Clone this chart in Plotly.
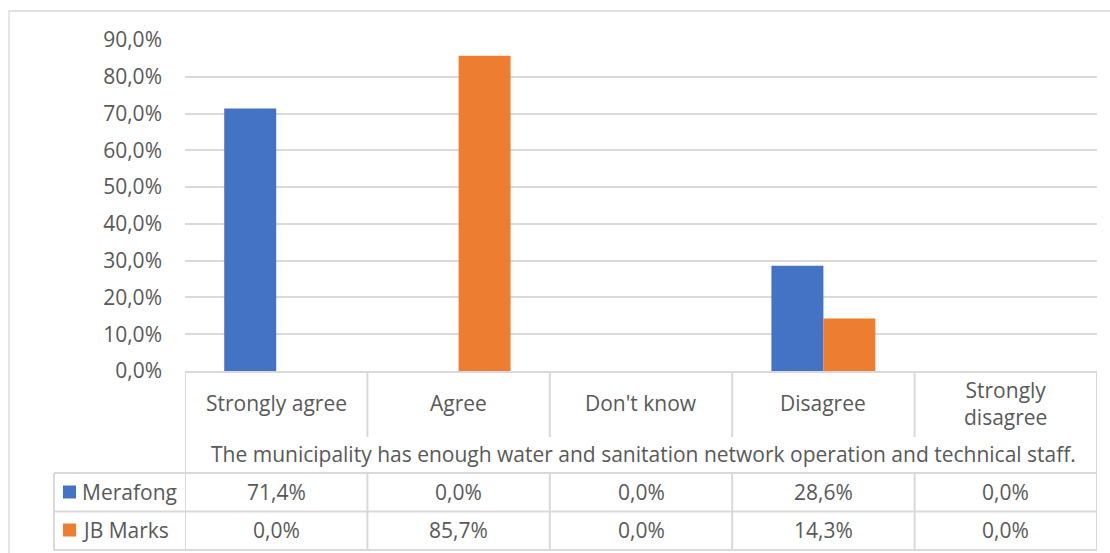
import plotly.graph_objects as go

# Survey responses per municipality
categories = ["Strongly agree", "Agree", "Don't know", "Disagree", "Strongly disagree"]
cat_labels = ["Strongly agree", "Agree", "Don't know", "Disagree", "Strongly<br>disagree"]
series_names = ["Merafong", "JB Marks"]
merafong = [0.714, 0.0, 0.0, 0.286, 0.0]
jb_marks = [0.0, 0.857, 0.0, 0.143, 0.0]
statement = "The municipality has enough water and sanitation network operation and technical staff."
colors = ["#4472C4", "#ED7D31"]
y_ticks = [0.0, 0.1, 0.2, 0.3, 0.4, 0.5, 0.6, 0.7, 0.8, 0.9]

W, H = 1110, 553
L, R, T, B = 185, 1097, 40, 371          # plot area in pixels
PW, PH = R - L, B - T

FONT = "Open Sans"
FS = 21
TXT = "#595959"
GRID = "#D9D9D9"


def px(xp):
    return (xp - L) / PW


def py(yp):
    return (B - yp) / PH


def label(x, y, text, xref="x", xanchor="center"):
    return dict(x=x, y=y, xref=xref, yref="paper", text=text, showarrow=False,
                xanchor=xanchor, yanchor="middle",
                font=dict(family=FONT, size=FS, color=TXT))


fig = go.Figure()
for name, vals, col in zip(series_names, [merafong, jb_marks], colors):
    fig.add_trace(go.Bar(x=categories, y=vals, name=name, marker_color=col,
                         marker_line_width=0, hoverinfo="skip"))

shapes = []
annotations = []

# chart frame
shapes.append(dict(type="rect", xref="paper", yref="paper",
                   x0=px(9), x1=px(1120), y0=py(11), y1=py(570),
                   line=dict(color=GRID, width=1.3), layer="below"))

n = len(categories)
# table grid: category header row
for i in range(1, n):
    shapes.append(dict(type="line", xref="x", yref="paper", x0=i - 0.5, x1=i - 0.5,
                       y0=py(371), y1=py(437), line=dict(color=GRID, width=2)))
for xb in [-0.5, n - 0.5]:
    shapes.append(dict(type="line", xref="x", yref="paper", x0=xb, x1=xb,
                       y0=py(371), y1=py(550), line=dict(color=GRID, width=2)))
# data rows
for i in range(1, n):
    shapes.append(dict(type="line", xref="x", yref="paper", x0=i - 0.5, x1=i - 0.5,
                       y0=py(473), y1=py(550), line=dict(color=GRID, width=2)))
for yl in [473, 511.5, 550]:
    shapes.append(dict(type="line", xref="paper", yref="paper", x0=px(54), x1=1,
                       y0=py(yl), y1=py(yl), line=dict(color=GRID, width=2)))
shapes.append(dict(type="line", xref="paper", yref="paper", x0=px(54), x1=px(54),
                   y0=py(473), y1=py(550), line=dict(color=GRID, width=2)))

# category labels
for i, lab in enumerate(cat_labels):
    annotations.append(label(i, py(403), lab))
# statement row
annotations.append(label(px(643), py(454), statement, xref="paper"))

# data rows with legend keys
row_y = [492, 530]
for name, vals, col, yr in zip(series_names, [merafong, jb_marks], colors, row_y):
    shapes.append(dict(type="rect", xref="paper", yref="paper",
                       x0=px(63), x1=px(76), y0=py(yr - 6.5), y1=py(yr + 6.5),
                       fillcolor=col, line=dict(width=0)))
    annotations.append(label(px(80), py(yr), name, xref="paper", xanchor="left"))
    for i, v in enumerate(vals):
        annotations.append(label(i, py(yr), f"{v * 100:.1f}%".replace(".", ",")))

fig.update_layout(
    width=W, height=H,
    margin=dict(l=L, r=W - R, t=T, b=H - B),
    paper_bgcolor="white", plot_bgcolor="white",
    separators=",.",
    barmode="group", bargap=0.43, bargroupgap=0,
    showlegend=False,
    shapes=shapes, annotations=annotations,
    font=dict(family=FONT, color=TXT, size=FS),
)
fig.update_xaxes(showticklabels=False, showgrid=False, showline=True,
                 linecolor=GRID, linewidth=2, ticks="", range=[-0.5, n - 0.5])
fig.update_yaxes(range=[0, 0.9], tickvals=y_ticks, tickformat=".1%",
                 showgrid=True, gridcolor=GRID, gridwidth=2, zeroline=False,
                 showline=False, ticks="", ticklabelstandoff=22,
                 tickfont=dict(family=FONT, size=FS, color=TXT))

fig.write_html("out.html")
